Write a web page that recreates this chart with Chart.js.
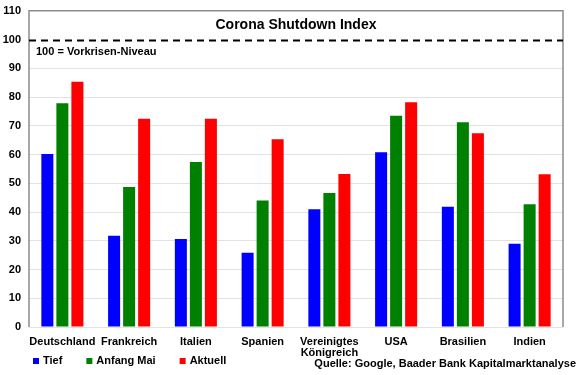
<!DOCTYPE html>
<html>
<head>
<meta charset="utf-8">
<script src="https://cdn.jsdelivr.net/npm/chart.js@4"></script>
<style>
  html, body { margin: 0; padding: 0; background: #fff; }
  #wrap { width: 580px; height: 375px; }
</style>
</head>
<body>
<div id="wrap"><canvas id="shutdown_chart" width="580" height="375"></canvas></div>
<script>
// data
let countries = ['Deutschland', 'Frankreich', 'Italien', 'Spanien', ['Vereinigtes', 'Königreich'], 'USA', 'Brasilien', 'Indien']
let tief = [60.2, 31.7, 30.6, 25.8, 41, 60.8, 41.8, 29]
let anfangMai = [77.8, 48.7, 57.4, 44, 46.6, 73.5, 71.2, 42.7]
let aktuell = [85.3, 72.4, 72.4, 65.3, 53.2, 78.2, 67.4, 53.1]
let yTicks = [0, 10, 20, 30, 40, 50, 60, 70, 80, 90, 100, 110]
let seriesNames = ['Tief', 'Anfang Mai', 'Aktuell']
let seriesColors = ['#0000ff', '#008000', '#ff0000']

let titleText = 'Corona Shutdown Index'
let refLevel = 100
let refText = '100 = Vorkrisen-Niveau'
let sourceText = 'Quelle: Google, Baader Bank Kapitalmarktanalyse'

let fontFamily = "Arial, 'Liberation Sans', sans-serif"

// extra drawing: frame, dashed 100 line, title, legend, source
let extras = {
    id: 'extras',
    afterDatasetsDraw(chart) {
        let ctx = chart.ctx
        let area = chart.chartArea
        let y = chart.scales.y
        ctx.save()

        // frame
        ctx.strokeStyle = '#8c8c8c'
        ctx.lineWidth = 1.5
        ctx.beginPath()
        ctx.moveTo(area.left, area.bottom)
        ctx.lineTo(area.left, area.top)
        ctx.lineTo(area.right, area.top)
        ctx.lineTo(area.right, area.bottom)
        ctx.stroke()

        // dashed reference line
        let yRef = Math.round(y.getPixelForValue(refLevel)) + 0.5
        ctx.strokeStyle = '#000'
        ctx.lineWidth = 2
        ctx.setLineDash([7, 5])
        ctx.beginPath()
        ctx.moveTo(area.left, yRef)
        ctx.lineTo(area.right, yRef)
        ctx.stroke()
        ctx.setLineDash([])

        ctx.fillStyle = '#000'
        ctx.textBaseline = 'middle'
        ctx.font = 'bold 11px ' + fontFamily
        ctx.textAlign = 'left'
        ctx.fillText(refText, area.left + 7, yRef + 11)

        // title
        ctx.font = 'bold 14px ' + fontFamily
        ctx.textAlign = 'center'
        ctx.fillText(titleText, (area.left + area.right) / 2, area.top + 14)

        // legend
        ctx.font = 'bold 11px ' + fontFamily
        ctx.textAlign = 'left'
        let lx = 33
        let ly = 361
        chart.data.datasets.forEach(function (ds) {
            ctx.fillStyle = ds.backgroundColor
            ctx.fillRect(lx, ly - 3, 6, 6)
            ctx.fillStyle = '#000'
            ctx.fillText(ds.label, lx + 10, ly)
            lx += 10 + ctx.measureText(ds.label).width + 24
        })

        // source
        ctx.textAlign = 'right'
        ctx.fillText(sourceText, 576, 364)
        ctx.restore()
    }
}

let datasets = seriesNames.map(function (name, i) {
    return {
        label: name,
        data: [tief, anfangMai, aktuell][i],
        backgroundColor: seriesColors[i],
        borderWidth: 0,
        barPercentage: 0.8,
        categoryPercentage: 0.675
    }
})

let ctx = document.getElementById('shutdown_chart').getContext('2d')
let chart = new Chart(ctx, {
    type: 'bar',
    data: {
        labels: countries,
        datasets: datasets
    },
    options: {
        responsive: false,
        animation: false,
        layout: { padding: { top: 10, right: 17, left: 0, bottom: 0 } },
        plugins: {
            legend: { display: false },
            tooltip: { enabled: false }
        },
        scales: {
            x: {
                grid: { display: false },
                border: { display: false },
                ticks: {
                    color: '#000',
                    font: { family: fontFamily, size: 11, weight: 'bold', lineHeight: 1.0 },
                    padding: 1,
                    maxRotation: 0,
                    autoSkip: false
                },
                afterFit: function (scale) { scale.height = 48 }
            },
            y: {
                min: 0,
                max: 110,
                afterBuildTicks: function (scale) {
                    scale.ticks = yTicks.map(function (v) { return { value: v } })
                },
                grid: {
                    drawTicks: false,
                    color: function (c) {
                        if (c.tick.value === refLevel) return 'rgba(0,0,0,0)'
                        return '#e2e2e2'
                    }
                },
                border: { display: false },
                ticks: {
                    color: '#000',
                    font: { family: fontFamily, size: 11, weight: 'bold', lineHeight: 0.5 },
                    padding: 8
                },
                afterFit: function (scale) { scale.width = 29 }
            }
        }
    },
    plugins: [extras]
})
</script>
</body>
</html>
